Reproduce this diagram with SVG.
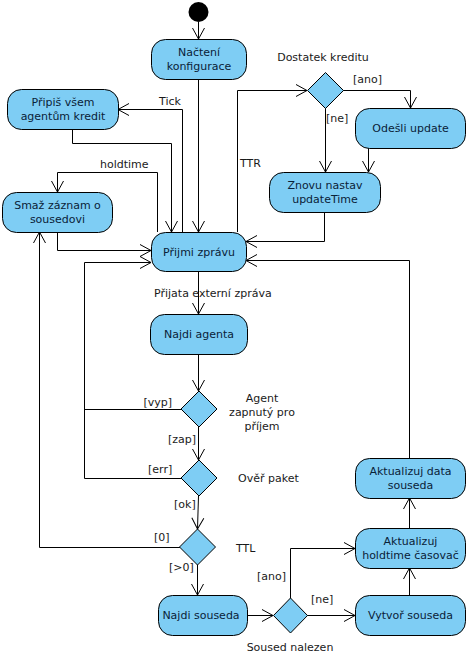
<svg xmlns="http://www.w3.org/2000/svg" width="467" height="653" viewBox="0 0 467 653">
<style>
.n{fill:#7ecdf4;stroke:#000;stroke-width:1}
.d{fill:#7ecdf4;stroke:#000;stroke-width:1}
.c{fill:none;stroke:#000;stroke-width:1}
.t{font-family:"DejaVu Sans",sans-serif;font-size:11px;fill:#0a2238;text-anchor:middle}
.l{font-family:"DejaVu Sans",sans-serif;font-size:11px;fill:#1a1a1a}
</style>
<defs>
<marker id="a" viewBox="-12 -7 13 14" refX="0" refY="0" markerWidth="13" markerHeight="14" markerUnits="userSpaceOnUse" orient="auto">
<path d="M-11,-6 L0,0 L-11,6" fill="none" stroke="#000" stroke-width="1"/>
</marker>
</defs>
<rect width="467" height="653" fill="#fff"/>
<g id="connectors">
<path class="c" marker-end="url(#a)" d="M198.5,22 V39"/>
<path class="c" marker-end="url(#a)" d="M198.5,79 V232"/>
<path class="c" marker-end="url(#a)" d="M182.5,232 V109.5 H118"/>
<path class="c" marker-end="url(#a)" d="M72.5,129 V143.5 H171.5 V232"/>
<path class="c" marker-end="url(#a)" d="M157.5,232 V172.5 H57.5 V192"/>
<path class="c" marker-end="url(#a)" d="M57.5,232 V250.5 H151"/>
<path class="c" marker-end="url(#a)" d="M237.5,232 V90.5 H307"/>
<path class="c" marker-end="url(#a)" d="M343,90.5 H410.5 V108"/>
<path class="c" marker-end="url(#a)" d="M325.5,108 V172"/>
<path class="c" marker-end="url(#a)" d="M368.5,148 V172"/>
<path class="c" marker-end="url(#a)" d="M324.5,212 V241.5 H246"/>
<path class="c" marker-end="url(#a)" d="M409.5,458 V260.5 H246"/>
<path class="c" marker-end="url(#a)" d="M198.5,271 V314"/>
<path class="c" marker-end="url(#a)" d="M198.5,354 V391"/>
<path class="c" d="M181,409.5 H84.5"/>
<path class="c" marker-end="url(#a)" d="M181,478.5 H84.5 V262.5 H151"/>
<path class="c" marker-end="url(#a)" d="M198.5,427 V460"/>
<path class="c" marker-end="url(#a)" d="M198.5,496 L197.5,529"/>
<path class="c" marker-end="url(#a)" d="M180,547.5 H39.5 V232"/>
<path class="c" marker-end="url(#a)" d="M197.5,565 V595"/>
<path class="c" marker-end="url(#a)" d="M247,615.5 H273"/>
<path class="c" marker-end="url(#a)" d="M290.5,598 V548.5 H355"/>
<path class="c" marker-end="url(#a)" d="M307,615.5 H355"/>
<path class="c" marker-end="url(#a)" d="M409.5,595 V568"/>
<path class="c" marker-end="url(#a)" d="M409.5,528 V498"/>
</g>
<g id="start"><circle cx="198.5" cy="12" r="10" fill="#000"/></g>
<g id="nacteni"><rect class="n" x="151.5" y="39.5" width="95" height="40" rx="14"/><text class="t" x="199" y="56">Načtení</text><text class="t" x="199" y="70">konfigurace</text></g>
<g id="pripis"><rect class="n" x="7.5" y="89.5" width="111" height="40" rx="14"/><text class="t" x="63" y="106">Připiš všem</text><text class="t" x="63" y="120">agentům kredit</text></g>
<g id="smaz"><rect class="n" x="2.5" y="192.5" width="110" height="40" rx="14"/><text class="t" x="57.5" y="209">Smaž záznam o</text><text class="t" x="57.5" y="223">sousedovi</text></g>
<g id="prijmi"><rect class="n" x="151.5" y="232.5" width="95" height="39" rx="14"/><text class="t" x="199" y="256">Přijmi zprávu</text></g>
<g id="dostatek"><polygon class="d" points="325.5,72.5 343.5,90.5 325.5,108.5 307.5,90.5"/></g>
<g id="odesli"><rect class="n" x="355.5" y="108.5" width="110" height="40" rx="14"/><text class="t" x="410.5" y="132">Odešli update</text></g>
<g id="znovu"><rect class="n" x="269.5" y="172.5" width="111" height="40" rx="14"/><text class="t" x="325" y="189">Znovu nastav</text><text class="t" x="325" y="203">updateTime</text></g>
<g id="najdiagenta"><rect class="n" x="150.5" y="314.5" width="97" height="40" rx="14"/><text class="t" x="199" y="338">Najdi agenta</text></g>
<g id="agent"><polygon class="d" points="199,391 217,409 199,427 181,409"/></g>
<g id="over"><polygon class="d" points="199,460 217,478 199,496 181,478"/></g>
<g id="ttl"><polygon class="d" points="197.5,529 215.5,547 197.5,565 179.5,547"/></g>
<g id="najdisouseda"><rect class="n" x="158.5" y="595.5" width="89" height="40" rx="14"/><text class="t" x="201" y="619">Najdi souseda</text></g>
<g id="soused"><polygon class="d" points="290.5,598 307.5,615.5 290.5,633 273.5,615.5"/></g>
<g id="vytvor"><rect class="n" x="355.5" y="595.5" width="110" height="40" rx="14"/><text class="t" x="410.5" y="619">Vytvoř souseda</text></g>
<g id="akthold"><rect class="n" x="355.5" y="528.5" width="110" height="40" rx="14"/><text class="t" x="410.5" y="545">Aktualizuj</text><text class="t" x="410.5" y="559">holdtime časovač</text></g>
<g id="aktdata"><rect class="n" x="355.5" y="458.5" width="110" height="40" rx="14"/><text class="t" x="410.5" y="475">Aktualizuj data</text><text class="t" x="410.5" y="489">souseda</text></g>
<g id="labels">
<text class="l" x="170" y="105" text-anchor="middle">Tick</text>
<text class="l" x="323" y="61" text-anchor="middle">Dostatek kreditu</text>
<text class="l" x="353" y="83">[ano]</text>
<text class="l" x="326" y="122">[ne]</text>
<text class="l" x="100" y="168">holdtime</text>
<text class="l" x="240" y="167">TTR</text>
<text class="l" x="154" y="297">Přijata externí zpráva</text>
<text class="l" x="172" y="406" text-anchor="end">[vyp]</text>
<text class="l" x="262" y="402" text-anchor="middle">Agent</text>
<text class="l" x="262" y="416" text-anchor="middle">zapnutý pro</text>
<text class="l" x="262" y="430" text-anchor="middle">příjem</text>
<text class="l" x="168" y="443">[zap]</text>
<text class="l" x="148" y="473">[err]</text>
<text class="l" x="238" y="482">Ověř paket</text>
<text class="l" x="174" y="508">[ok]</text>
<text class="l" x="154" y="541">[0]</text>
<text class="l" x="236" y="552">TTL</text>
<text class="l" x="169" y="571">[&gt;0]</text>
<text class="l" x="257" y="580">[ano]</text>
<text class="l" x="311" y="603">[ne]</text>
<text class="l" x="290" y="651" text-anchor="middle">Soused nalezen</text>
</g>
</svg>
